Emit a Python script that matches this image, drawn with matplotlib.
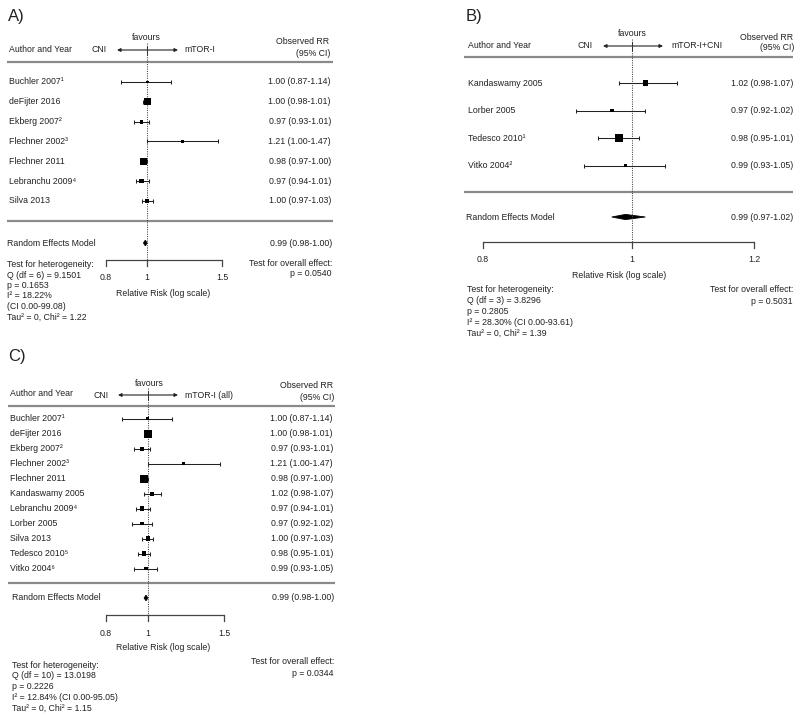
import matplotlib
matplotlib.use('Agg')
import matplotlib.pyplot as plt
import numpy as np
from matplotlib.patches import Polygon

plt.rcParams['font.family'] = ['Liberation Sans', 'DejaVu Sans']

# ---------------- data ----------------
studies_A = ['Buchler 2007¹', 'deFijter 2016', 'Ekberg 2007²', 'Flechner 2002³',
             'Flechner 2011', 'Lebranchu 2009⁴', 'Silva 2013']
rr_A = [1.00, 1.00, 0.97, 1.21, 0.98, 0.97, 1.00]
lo_A = [0.87, 0.98, 0.93, 1.00, 0.97, 0.94, 0.97]
hi_A = [1.14, 1.01, 1.01, 1.47, 1.00, 1.01, 1.03]
weights_A = [5.0, 28.9, 8.9, 2.2, 32.8, 11.1, 11.1]
re_A = [0.99, 0.98, 1.00]
ticks_A = [0.8, 1, 1.5]
het_A = ['Test for heterogeneity:', 'Q (df = 6) = 9.1501', 'p = 0.1653',
         'I² = 18.22%', '(CI 0.00-99.08)', 'Tau² = 0, Chi² = 1.22']
overall_A = ['Test for overall effect:', 'p = 0.0540']

studies_B = ['Kandaswamy 2005', 'Lorber 2005', 'Tedesco 2010¹', 'Vitko 2004²']
rr_B = [1.02, 0.97, 0.98, 0.99]
lo_B = [0.98, 0.92, 0.95, 0.93]
hi_B = [1.07, 1.02, 1.01, 1.05]
weights_B = [25.5, 10.9, 58.2, 5.7]
re_B = [0.99, 0.97, 1.02]
ticks_B = [0.8, 1, 1.2]
het_B = ['Test for heterogeneity:', 'Q (df = 3) = 3.8296', 'p = 0.2805',
         'I² = 28.30% (CI 0.00-93.61)', 'Tau² = 0, Chi² = 1.39']
overall_B = ['Test for overall effect:', 'p = 0.5031']

studies_C = ['Buchler 2007¹', 'deFijter 2016', 'Ekberg 2007²', 'Flechner 2002³',
             'Flechner 2011', 'Kandaswamy 2005', 'Lebranchu 2009⁴', 'Lorber 2005',
             'Silva 2013', 'Tedesco 2010⁵', 'Vitko 2004⁶']
rr_C = [1.00, 1.00, 0.97, 1.21, 0.98, 1.02, 0.97, 0.97, 1.00, 0.98, 0.99]
lo_C = [0.87, 0.98, 0.93, 1.00, 0.97, 0.98, 0.94, 0.92, 0.97, 0.95, 0.93]
hi_C = [1.14, 1.01, 1.01, 1.47, 1.00, 1.07, 1.01, 1.02, 1.03, 1.01, 1.05]
weights_C = [3.6, 23.9, 6.5, 1.6, 23.9, 6.5, 8.1, 4.9, 8.1, 8.1, 4.9]
re_C = [0.99, 0.98, 1.00]
ticks_C = [0.8, 1, 1.5]
het_C = ['Test for heterogeneity:', 'Q (df = 10) = 13.0198', 'p = 0.2226',
         'I² = 12.84% (CI 0.00-95.05)', 'Tau² = 0, Chi² = 1.15']
overall_C = ['Test for overall effect:', 'p = 0.0344']

# ---------------- figure ----------------
W, H = 800, 718
fig = plt.figure(figsize=(W / 100, H / 100), dpi=100)
deco = fig.add_axes([0, 0, 1, 1])
deco.set_xlim(0, W)
deco.set_ylim(H, 0)
deco.axis('off')

TXT = '#222222'
FS = 6.3
SEP = '#8a8a8a'


def forest(label, lab_xy, studies, rr, lo, hi, weights, re, ticks, het, overall,
           ax_px, hdr, cols, rows, sep, re_y, axis_y, het_pos, ov_pos, max_box, re_h):
    l, r = ax_px
    ax = fig.add_axes([l / W, 0, (r - l) / W, 1])
    ax.set_xscale('log')
    ax.set_xlim(ticks[0], ticks[-1])
    ax.set_ylim(H, 0)
    ax.axis('off')

    deco.text(lab_xy[0], lab_xy[1], label, fontsize=12, ha='left', va='center', color=TXT)

    fav_x, fav_y, hy, arrow_l, arrow_r, cni_x, right_lab, right_x, obs_x, obs_y = hdr
    deco.text(fav_x, fav_y, 'favours', fontsize=FS, ha='center', va='center', color=TXT)
    deco.text(cols[0], hy - 1, 'Author and Year', fontsize=FS, ha='left', va='center', color=TXT)
    deco.text(cni_x, hy, 'CNI', fontsize=FS, ha='left', va='center', color=TXT)
    deco.text(right_x, hy, right_lab, fontsize=FS, ha='left', va='center', color=TXT)
    deco.annotate('', xy=(arrow_l, hy), xytext=(arrow_r, hy),
                  arrowprops=dict(arrowstyle='<|-|>', color=TXT, lw=0.8,
                                  mutation_scale=5, shrinkA=0, shrinkB=0))
    ax.plot([1, 1], [hy - 4, hy + 4], color=TXT, lw=0.7)
    deco.text(obs_x, obs_y, 'Observed RR', fontsize=FS, ha='right', va='center', color=TXT)
    deco.text(obs_x + 1, obs_y + 11, '(95% CI)', fontsize=FS, ha='right', va='center', color=TXT)

    sx0, sx1, sy_top, sy_bot = sep
    deco.plot([sx0, sx1], [sy_top, sy_top], color=SEP, lw=1.6, solid_capstyle='butt')
    deco.plot([sx0, sx1], [sy_bot, sy_bot], color=SEP, lw=1.6, solid_capstyle='butt')

    ax.plot([1, 1], [fav_y + 5, axis_y], color='#444444', lw=0.75, ls=(0, (1, 1.2)))

    y0, dy = rows
    ys = y0 + dy * np.arange(len(studies))
    rr = np.array(rr); lo = np.array(lo); hi = np.array(hi)
    ax.errorbar(rr, ys, xerr=[rr - lo, hi - rr], fmt='none', ecolor=TXT,
                elinewidth=0.75, capsize=1.3, capthick=0.75)
    w = np.array(weights)
    box_px = np.maximum(max_box * np.sqrt(w / w.max()), 2.8)
    ax.scatter(rr, ys, marker='s', s=(box_px * 0.72) ** 2, color='black',
               edgecolors='none', zorder=3)
    for s, y, a, b, c in zip(studies, ys, rr, lo, hi):
        deco.text(cols[0], y, s, fontsize=FS, ha='left', va='center', color=TXT)
        deco.text(cols[1], y, f'{a:.2f} ({b:.2f}-{c:.2f})', fontsize=FS,
                  ha='right', va='center', color=TXT)

    est, rlo, rhi = re
    ax.add_patch(Polygon([(rlo, re_y), (est, re_y - re_h), (rhi, re_y), (est, re_y + re_h)],
                         closed=True, color='black', lw=0.6))
    deco.text(cols[2], re_y, 'Random Effects Model', fontsize=FS, ha='left', va='center', color=TXT)
    deco.text(cols[3], re_y, f'{est:.2f} ({rlo:.2f}-{rhi:.2f})', fontsize=FS,
              ha='right', va='center', color=TXT)

    ax.plot([ticks[0], ticks[-1]], [axis_y, axis_y], color='#444444', lw=0.9,
            solid_capstyle='butt', clip_on=False)
    for t in ticks:
        ax.plot([t, t], [axis_y, axis_y + 6], color='#444444', lw=0.9, clip_on=False)
        ax.text(t, axis_y + 18, f'{t:g}', fontsize=FS, ha='center', va='center', color=TXT)
    deco.text(cols[4], axis_y + 33, 'Relative Risk (log scale)', fontsize=FS,
              ha='center', va='center', color=TXT)

    hx, hy0, hdy = het_pos
    for i, s in enumerate(het):
        deco.text(hx, hy0 + i * hdy, s, fontsize=FS, ha='left', va='center', color=TXT)
    ox, oy0, ody = ov_pos
    for i, s in enumerate(overall):
        deco.text(ox, oy0 + i * ody, s, fontsize=FS, ha='right', va='center', color=TXT)


forest('A)', (8, 16), studies_A, rr_A, lo_A, hi_A, weights_A, re_A, ticks_A, het_A, overall_A,
       ax_px=(106, 222),
       hdr=(146, 38, 50, 117, 178, 92, 'mTOR-I', 184, 329, 42),
       cols=(9, 331, 7, 332, 163),
       rows=(82, 19.8),
       sep=(7, 333, 62, 221),
       re_y=243, axis_y=260,
       het_pos=(7, 264.5, 10.5), ov_pos=(332, 263.5, 10.5), max_box=7.4, re_h=2.8)

forest('B)', (466, 16), studies_B, rr_B, lo_B, hi_B, weights_B, re_B, ticks_B, het_B, overall_B,
       ax_px=(483, 754),
       hdr=(632, 34, 46, 603, 663, 577, 'mTOR-I+CNI', 671, 793, 37),
       cols=(468, 793, 466, 793, 619),
       rows=(83, 27.6),
       sep=(464, 793, 57, 192),
       re_y=217, axis_y=242,
       het_pos=(467, 290, 10.8), ov_pos=(793, 290, 11), max_box=8.0, re_h=2.6)

forest('C)', (8, 356), studies_C, rr_C, lo_C, hi_C, weights_C, re_C, ticks_C, het_C, overall_C,
       ax_px=(106, 224),
       hdr=(149, 383, 395, 118, 178, 94, 'mTOR-I (all)', 185, 333, 386),
       cols=(10, 333, 12, 334, 163),
       rows=(418.7, 15.0),
       sep=(8, 335, 406, 583),
       re_y=598, axis_y=615,
       het_pos=(12, 665, 10.8), ov_pos=(334, 662, 11), max_box=7.6, re_h=2.8)

fig.savefig('out.png', dpi=100, facecolor='white')
